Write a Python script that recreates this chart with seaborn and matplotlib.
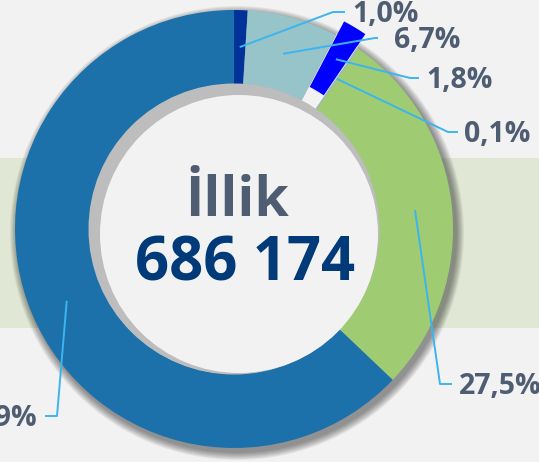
import numpy as np
import matplotlib
matplotlib.use("Agg")
import matplotlib.pyplot as plt
from matplotlib.patches import Wedge, Circle
import seaborn as sns

# ---- data ----
shares = [1.0, 6.7, 1.8, 0.1, 27.5, 62.9]
share_labels = ["1,0%", "6,7%", "1,8%", "0,1%", "27,5%", "62,9%"]
center_title = "İllik"
center_value = "686 174"

# ---- style ----
colors = ["#00329a", "#96c4c8", "#0000ff", "#9dc3e6", "#9fcb72", "#1c71ab"]
explode_px = [0, 0, 16, 0, 0, 0]
sns.set_theme(style="white")
plt.rcParams["font.family"] = ["Open Sans", "DejaVu Sans"]

W, H = 539, 462
BG = "#f2f2f2"
fig = plt.figure(figsize=(W / 100, H / 100), dpi=100, facecolor=BG)
ax = fig.add_axes([0, 0, 1, 1])
ax.set_facecolor(BG)

def Y(yt):  # convert top-based pixel coordinate to data y
    return H - yt

cx, cy = 234, Y(229)
R, r_in = 219, 145

# background band
ax.axhspan(Y(328), Y(158), color="#e0e8d5", zorder=0, lw=0)

# soft drop shadow of ring
for i in range(8):
    ax.add_patch(Wedge((cx + 3, cy - 4), R + 1 + i, 0, 360, width=R - r_in + 2 * i,
                       facecolor="black", alpha=0.06, lw=0, zorder=1))

wedges, _ = ax.pie(shares, colors=colors, startangle=90, counterclock=False,
                   radius=R, center=(cx, cy), explode=explode_px,
                   wedgeprops=dict(width=R - r_in, linewidth=0, zorder=2))
for w in wedges:
    w.set_zorder(2)

# clear the shadow where exploded wedges left a gap
for w, e in zip(wedges, explode_px):
    if e:
        ax.add_patch(Wedge((cx, cy), R + 2, w.theta1, w.theta2, width=R - r_in + 4,
                           facecolor=BG, lw=0, zorder=1.5))

# inner hole with inner shadow
ax.add_patch(Circle((cx, cy), r_in + 0.5, facecolor="#bdbdbd", lw=0, zorder=3))
ax.add_patch(Circle((cx + 5, cy - 5), r_in - 6, facecolor=BG, lw=0, zorder=4))

# leaders and labels
line_col = "#3cb5ef"
lab_col = "#4e5d72"
label_pos = [  # (elbow x, elbow y, end x, text x, ha) in top-based pixels
    (333, 12, 345, 352, "left"),
    (375, 38, 378, 394, "left"),
    (410, 78, 419, 426, "left"),
    (448, 132, 458, 464, "left"),
    (440, 384, 452, 459, "left"),
    (57, 416, 45, 37, "right"),
]
cum = 0.0
total = sum(shares)
for k, (v, lab) in enumerate(zip(shares, share_labels)):
    mid = cum + v / 2
    cum += v
    ang = np.deg2rad(mid / total * 360)
    rr = (R + r_in) / 2 + explode_px[k]
    sx = cx + rr * np.sin(ang)
    sy = cy + rr * np.cos(ang)
    ex, ey, endx, tx, ha = label_pos[k]
    ax.plot([sx, ex, endx], [sy, Y(ey), Y(ey)], color=line_col, lw=1.4,
            zorder=6, solid_capstyle="butt")
    ax.text(tx, Y(ey + 3), lab, ha=ha, va="center", fontsize=20.5,
            fontweight="bold", color=lab_col, zorder=7)

ax.text(cx + 3, Y(202), center_title, ha="center", va="center", fontsize=40,
        fontweight="bold", color="#4e5d72", zorder=7)
ax.text(cx + 11, Y(265), center_value, ha="center", va="center", fontsize=43,
        fontweight="bold", color="#003a78", zorder=7)

ax.set_xlim(0, W)
ax.set_ylim(0, H)
ax.set_aspect("equal")
ax.axis("off")
fig.savefig("out.png", dpi=100, facecolor=BG)
